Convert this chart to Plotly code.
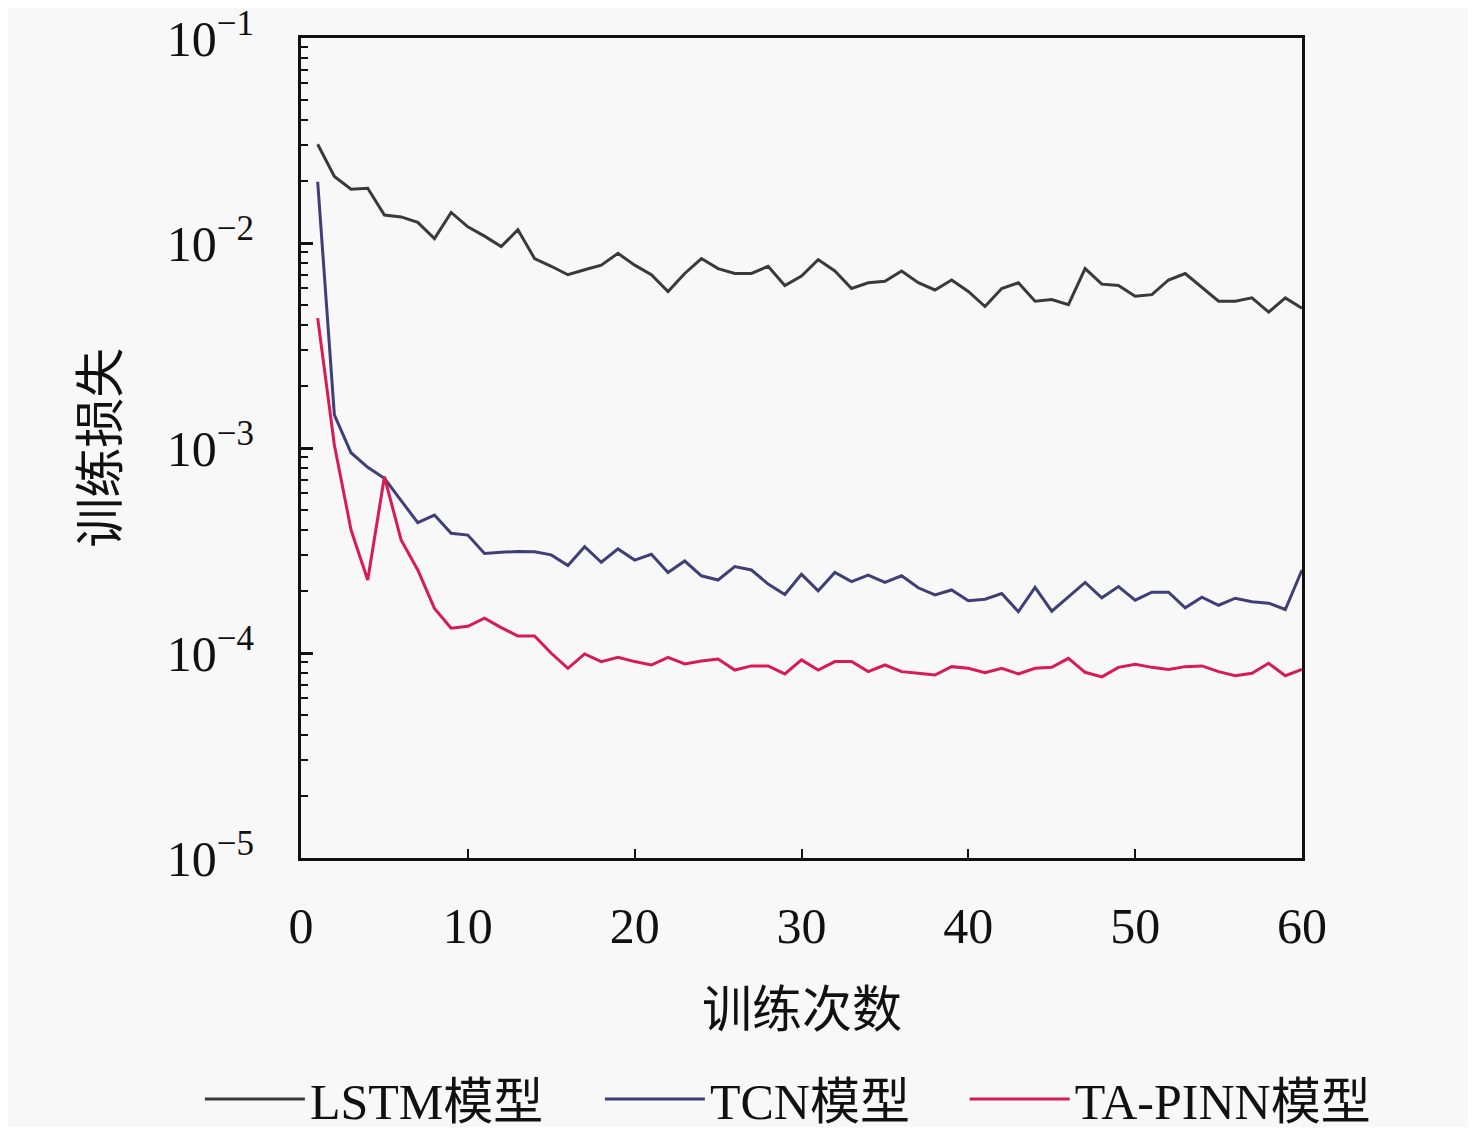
import plotly.graph_objects as go

# training epochs
epochs = list(range(1, 61))

# training loss
lstm_loss = [
    0.0303, 0.0211, 0.0183, 0.0185, 0.0137, 0.0134, 0.0126, 0.0105, 0.0141, 0.0120,
    0.0108, 0.0096, 0.0116, 0.0084, 0.0077, 0.0070, 0.0074, 0.0078, 0.0089, 0.0078,
    0.0070, 0.0058, 0.0071, 0.0084, 0.0075, 0.0071, 0.0071, 0.0077, 0.0062, 0.0069,
    0.0083, 0.0073, 0.0060, 0.0064, 0.0065, 0.0073, 0.0064, 0.0059, 0.0066, 0.0058,
    0.0049, 0.0060, 0.0064, 0.0052, 0.0053, 0.0050, 0.0075, 0.0063, 0.0062, 0.0055,
    0.0056, 0.0066, 0.0071, 0.0061, 0.0052, 0.0052, 0.0054, 0.0046, 0.0054, 0.0048,
]
tcn_loss = [
    0.0199, 0.00145, 0.000948, 0.000805, 0.000711, 0.000553, 0.000432, 0.000471, 0.000384, 0.000376,
    0.000306, 0.000310, 0.000313, 0.000312, 0.000301, 0.000267, 0.000330, 0.000277, 0.000322, 0.000284,
    0.000303, 0.000247, 0.000281, 0.000238, 0.000227, 0.000264, 0.000254, 0.000217, 0.000193, 0.000242,
    0.000201, 0.000247, 0.000223, 0.000240, 0.000221, 0.000238, 0.000208, 0.000192, 0.000203, 0.000180,
    0.000183, 0.000195, 0.000159, 0.000209, 0.000160, 0.000188, 0.000221, 0.000186, 0.000211, 0.000181,
    0.000198, 0.000198, 0.000166, 0.000187, 0.000171, 0.000185, 0.000178, 0.000175, 0.000163, 0.000254,
]
tapinn_loss = [
    0.0043, 0.001035, 0.000398, 0.000227, 0.000724, 0.000356, 0.000254, 0.000165, 0.000132, 0.000135,
    0.000148, 0.000133, 0.000121, 0.000121, 0.0000997, 0.0000842, 0.0000989, 0.0000908, 0.0000953, 0.0000908,
    0.0000874, 0.0000953, 0.0000884, 0.0000914, 0.0000935, 0.0000826, 0.0000865, 0.0000865, 0.0000791, 0.0000925,
    0.0000826, 0.0000908, 0.0000908, 0.0000811, 0.0000874, 0.0000811, 0.0000796, 0.0000781, 0.0000858, 0.0000842,
    0.0000801, 0.0000842, 0.0000791, 0.0000842, 0.0000851, 0.0000942, 0.0000805, 0.0000765, 0.0000851, 0.0000881,
    0.0000851, 0.0000832, 0.0000858, 0.0000865, 0.0000811, 0.0000775, 0.0000796, 0.0000891, 0.0000775, 0.0000832,
]

series_names = ["LSTM模型", "TCN模型", "TA-PINN模型"]
series_colors = ["#3a3a3a", "#3f3f78", "#d81b55"]
# last entry gets its own legend box so the spacing can follow the reference
series_legends = ["legend", "legend", "legend2"]

y_major = [1e-5, 1e-4, 1e-3, 1e-2, 1e-1]
y_major_text = ["10<sup>−5</sup>", "10<sup>−4</sup>", "10<sup>−3</sup>", "10<sup>−2</sup>", "10<sup>−1</sup>"]
y_minor = [m * d for d in [1e-5, 1e-4, 1e-3, 1e-2] for m in range(2, 10)]

font_stack = "Liberation Serif, Times New Roman, Noto Sans CJK SC, serif"

fig = go.Figure()
for name, loss, color, lg in zip(series_names, [lstm_loss, tcn_loss, tapinn_loss], series_colors, series_legends):
    fig.add_trace(go.Scatter(
        x=epochs, y=loss, mode="lines", name=name, legend=lg,
        line=dict(color=color, width=3),
    ))

legend_style = dict(
    orientation="h", xanchor="left", y=-0.294, yanchor="middle",
    font=dict(size=50), itemwidth=100, bgcolor="rgba(0,0,0,0)", tracegroupgap=0,
)

# page body has an 8px margin, so the figure is 16px smaller than the window
fig.update_layout(
    width=1460, height=1119,
    margin=dict(l=293, r=166, t=30, b=269, autoexpand=False),
    paper_bgcolor="#f8f8f8", plot_bgcolor="#f8f8f8",
    font=dict(family=font_stack, size=50, color="#111111"),
    showlegend=True,
    legend=dict(x=-0.101, entrywidth=285, entrywidthmode="pixels", **legend_style),
    legend2=dict(x=0.663, **legend_style),
)

# axis titles as annotations so they sit where the reference has them
fig.add_annotation(text="训练次数", xref="paper", yref="paper", x=0.5, y=-0.185,
                   xanchor="center", yanchor="middle", showarrow=False, font=dict(size=50))
fig.add_annotation(text="训练损失", xref="paper", yref="paper", x=-0.2, y=0.5, textangle=-90,
                   xanchor="center", yanchor="middle", showarrow=False, font=dict(size=50))

fig.update_xaxes(
    range=[0, 60], tickvals=[0, 10, 20, 30, 40, 50, 60],
    ticks="inside", ticklen=9, tickwidth=2, tickcolor="#111111",
    showline=True, linewidth=3, linecolor="#111111", mirror=True,
    showgrid=False, zeroline=False, ticklabelstandoff=22, ticklabeloverflow="allow",
)
fig.update_yaxes(
    type="log", range=[-5, -1],
    tickvals=y_major, ticktext=y_major_text,
    ticks="inside", ticklen=12, tickwidth=3, tickcolor="#111111",
    minor=dict(tickvals=y_minor, ticks="inside", ticklen=7, tickwidth=2, tickcolor="#111111", showgrid=False),
    showline=True, linewidth=3, linecolor="#111111", mirror=True,
    showgrid=False, zeroline=False, ticklabelstandoff=34, ticklabeloverflow="allow",
)

fig.write_html("out.html")
